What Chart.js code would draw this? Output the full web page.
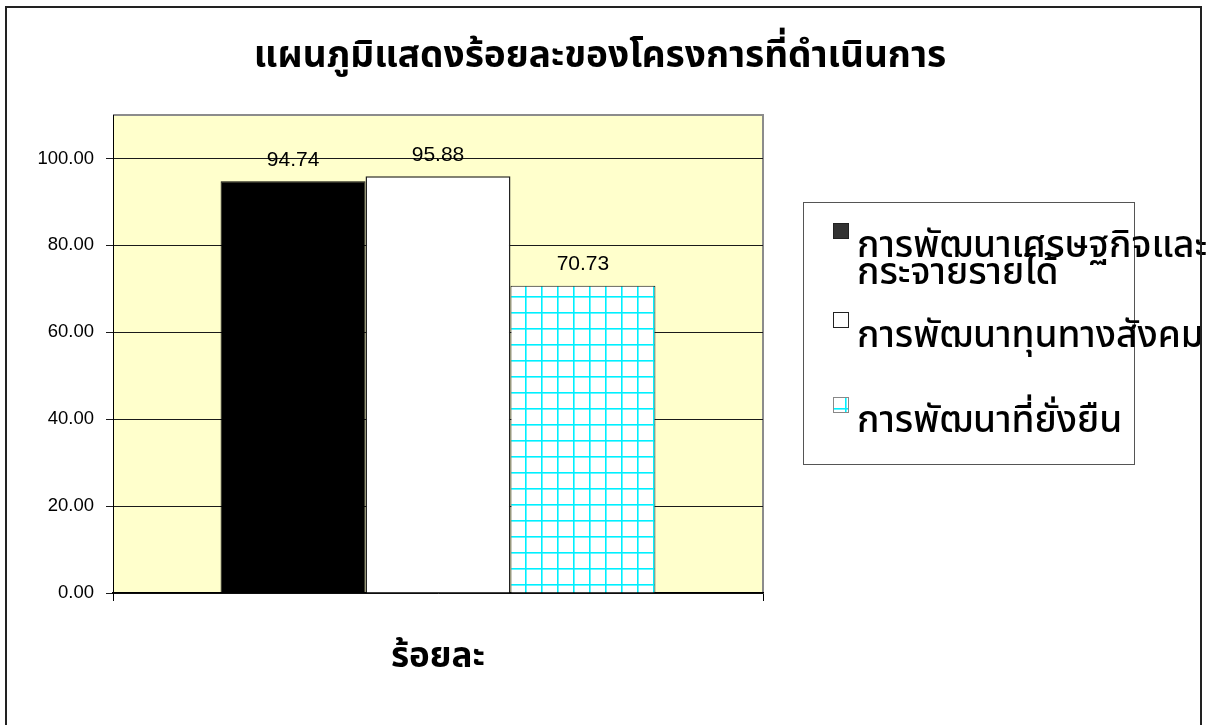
<!DOCTYPE html>
<html><head><meta charset="utf-8">
<script src="https://cdn.jsdelivr.net/npm/chart.js@4.4.1/dist/chart.umd.min.js"></script>
<style>html,body{margin:0;padding:0;background:#fff;overflow:hidden}#wrap{width:1229px;height:725px;position:relative}</style>
</head><body><div id="wrap"><canvas id="c" width="1229" height="725"></canvas></div>
<script>
// ---- data ----
const titleText = 'แผนภูมิแสดงร้อยละของโครงการที่ดำเนินการ';
const categories = ['ร้อยละ'];
const seriesNames = ['การพัฒนาเศรษฐกิจและกระจายรายได้', 'การพัฒนาทุนทางสังคม', 'การพัฒนาที่ยั่งยืน'];
const legendLines = [['การพัฒนาเศรษฐกิจและ', 'กระจายรายได้'], ['การพัฒนาทุนทางสังคม'], ['การพัฒนาที่ยั่งยืน']];
const econValues = [94.74];
const socialValues = [95.88];
const sustainValues = [70.73];
const yMin = 0, yMax = 110, yStep = 20;

const thaiFont = "'Noto Sans Thai', Tahoma, 'Noto Sans', 'DejaVu Sans', sans-serif";
const numFont = "'Liberation Sans', Arial, sans-serif";

// grid pattern for the third series
function makeGridPattern() {
  const t = document.createElement('canvas');
  t.width = 16; t.height = 16;
  const g = t.getContext('2d');
  g.fillStyle = '#ffffff'; g.fillRect(0, 0, 16, 16);
  g.fillStyle = '#00f0ff';
  g.fillRect(13, 0, 1.6, 16);
  g.fillRect(0, 8, 16, 1.6);
  return document.getElementById('c').getContext('2d').createPattern(t, 'repeat');
}
const gridPattern = makeGridPattern();

const framePlugin = {
  id: 'frame',
  beforeDraw(chart) {
    const { ctx, chartArea: a } = chart;
    ctx.save();
    ctx.fillStyle = '#fff'; ctx.fillRect(0, 0, chart.width, chart.height);
    ctx.fillStyle = '#FFFFCC'; ctx.fillRect(a.left, a.top, a.width, a.height);
    ctx.strokeStyle = '#8c8c8c'; ctx.lineWidth = 2;
    ctx.beginPath(); ctx.moveTo(a.left, a.top); ctx.lineTo(a.right, a.top); ctx.lineTo(a.right, a.bottom); ctx.stroke();
    ctx.restore();
  }
};

const valueLabels = {
  id: 'valueLabels',
  afterDatasetsDraw(chart) {
    const ctx = chart.ctx;
    ctx.save();
    ctx.font = '21px ' + numFont; ctx.fillStyle = '#000';
    ctx.textAlign = 'center'; ctx.textBaseline = 'middle';
    chart.data.datasets.forEach((ds, i) => {
      chart.getDatasetMeta(i).data.forEach((el, j) => {
        ctx.fillText(ds.data[j].toFixed(2), el.x, el.y - 21);
      });
    });
    ctx.restore();
  }
};

const boxLegend = {
  id: 'boxLegend',
  afterDraw(chart) {
    const ctx = chart.ctx;
    ctx.save();
    ctx.strokeStyle = '#555'; ctx.lineWidth = 1;
    ctx.strokeRect(803.5, 202.5, 331, 262);
    const markerY = [223, 312, 397];
    const baseY = [[257, 284], [347], [432]];
    ctx.font = '500 37px ' + thaiFont; ctx.fillStyle = '#000';
    ctx.textAlign = 'left'; ctx.textBaseline = 'alphabetic';
    chart.data.datasets.forEach((ds, i) => {
      const my = markerY[i];
      ctx.fillStyle = i === 0 ? '#333' : (i === 2 ? gridPattern : '#fff');
      ctx.fillRect(833, my, 16, 16);
      ctx.strokeStyle = i === 2 ? '#888' : '#222'; ctx.lineWidth = 1;
      ctx.strokeRect(833.5, my + 0.5, 15, 15);
      ctx.fillStyle = '#000';
      legendLines[i].forEach((ln, k) => ctx.fillText(ln, 857, baseY[i][k]));
    });
    // outer chart frame drawn last so it crosses the overflowing legend text
    ctx.strokeStyle = '#222'; ctx.lineWidth = 2;
    ctx.strokeRect(6, 7, 1195, 760);
    ctx.restore();
  }
};

new Chart(document.getElementById('c'), {
  type: 'bar',
  data: {
    labels: categories,
    datasets: [
      { label: seriesNames[0], data: econValues, backgroundColor: '#000', borderColor: '#000', borderWidth: 1 },
      { label: seriesNames[1], data: socialValues, backgroundColor: '#fff', borderColor: '#222', borderWidth: 1.5 },
      { label: seriesNames[2], data: sustainValues, backgroundColor: gridPattern, borderColor: '#111', borderWidth: 1 }
    ]
  },
  options: {
    responsive: false, animation: false, devicePixelRatio: 1,
    layout: { padding: { left: 0, right: 29, top: 0, bottom: 0 } },
    datasets: { bar: { categoryPercentage: 0.669, barPercentage: 1.0 } },
    plugins: {
      legend: { display: false },
      tooltip: { enabled: false },
      title: {
        display: true, text: titleText, color: '#000',
        font: { size: 37, weight: 'bold', family: thaiFont, lineHeight: 1.25 },
        padding: { top: 36, bottom: 32.75 }
      }
    },
    scales: {
      x: {
        grid: { display: true, offset: true, drawOnChartArea: false, drawTicks: true, tickLength: 8, color: '#000', lineWidth: 1 },
        border: { display: true, color: '#000', width: 1.5 },
        ticks: { color: '#000', padding: 38, font: { size: 35, weight: 'bold', family: thaiFont } },
        afterFit(s) { s.height = 132; }
      },
      y: {
        min: yMin, max: yMax,
        grid: { color: '#1a1a1a', lineWidth: 1, tickLength: 7, drawTicks: true },
        border: { display: true, color: '#000', width: 1 },
        ticks: { stepSize: yStep, includeBounds: false, color: '#000', padding: 12,
          font: { size: 18.5, family: numFont }, callback: v => v.toFixed(2) },
        afterFit(s) { s.width = 113; }
      },
      yRight: {
        type: 'linear', position: 'right', display: true,
        grid: { display: false }, border: { display: false }, ticks: { display: false },
        afterFit(s) { s.width = 437; }
      }
    }
  },
  plugins: [framePlugin, valueLabels, boxLegend]
});
</script></body></html>
